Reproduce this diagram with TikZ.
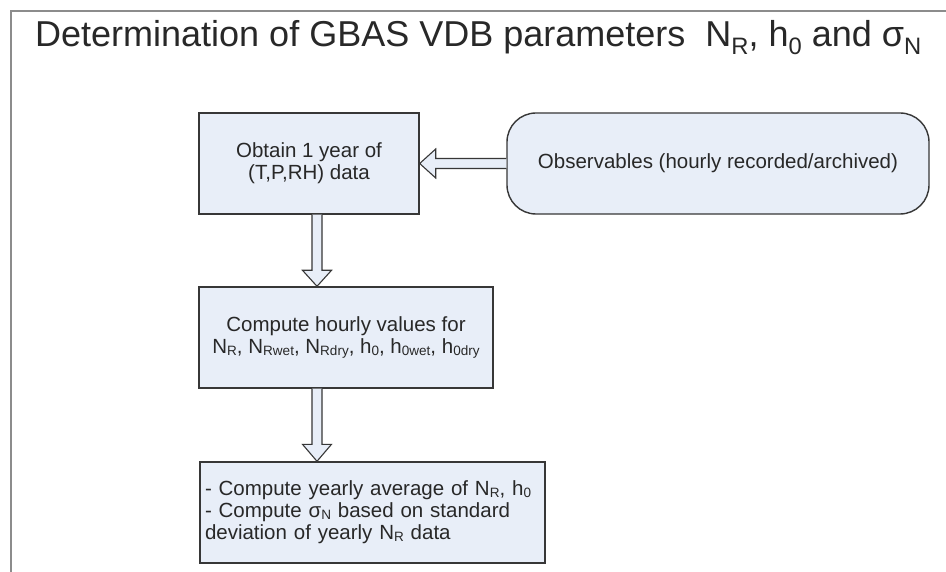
\documentclass[tikz,border=0pt]{standalone}
\usepackage{fontspec}
\setmainfont{Liberation Sans}
\usetikzlibrary{calc}
\definecolor{boxfill}{RGB}{232,238,248}
\definecolor{boxline}{RGB}{55,55,55}
\definecolor{txt}{RGB}{40,40,40}
\definecolor{framecol}{RGB}{140,140,140}
\newcommand{\lowsub}[1]{\raisebox{-0.2ex}{\scalebox{0.66}{#1}}}
\newcommand{\ttsub}[1]{\raisebox{-0.4ex}{\scalebox{0.66}{#1}}}
\tikzset{
  pbox/.style={draw=boxline, line width=1.4pt, fill=boxfill, inner sep=0pt, text=txt,
    font=\fontsize{20.5}{22}\selectfont, align=center, minimum height=101pt},
  blockarrow/.style={draw=boxline, line width=1.1pt, fill=boxfill, line join=miter},
  titletext/.style={text=txt, font=\fontsize{36}{40}\selectfont, inner sep=0pt}
}
\begin{document}
\begin{tikzpicture}[x=1pt,y=-1pt]
\useasboundingbox (0,0) rectangle (946,572);
\fill[white] (0,0) rectangle (946,572);
\draw[framecol, line width=2.5pt] (11,572) -- (11,11) -- (946,11);
\node[titletext, anchor=base west] (title) at (35,47)
  {Determination of GBAS VDB parameters\ \ N\ttsub{R}, h\ttsub{0} and σ\ttsub{N}};
\node[pbox, minimum width=220pt] (b1) at (309,163.5)
  {Obtain 1 year of\\(T,P,RH) data};
\node[pbox, rounded corners=29pt, minimum width=422pt] (obs) at (718,163.5)
  {Observables (hourly recorded/archived)};
\node[pbox, minimum width=294pt] (b2) at (346,337.5)
  {Compute hourly values for\\N\lowsub{R}, N\lowsub{Rwet}, N\lowsub{Rdry}, h\lowsub{0}, h\lowsub{0wet}, h\lowsub{0dry}};
\node[pbox, align=left, text width=335pt, minimum width=345pt] (b3) at (372.5,512.5)
  {- Compute yearly average of N\lowsub{R}, h\lowsub{0}\\- Compute σ\lowsub{N} based on standard\\deviation of yearly N\lowsub{R} data};
% horizontal block arrow
\draw[blockarrow] ($(obs.west)+(0,-5)$) -- ($(b1.east)+(16,-5)$) -- ($(b1.east)+(16,-14.5)$)
  -- (b1.east) -- ($(b1.east)+(16,14.5)$) -- ($(b1.east)+(16,5)$) -- ($(obs.west)+(0,5)$);
% vertical block arrows
\coordinate (a1top) at ($(b1.south)+(8,0)$);
\coordinate (a1tip) at (a1top |- b2.north);
\draw[blockarrow] ($(a1top)+(-5,0)$) -- ($(a1tip)+(-5,-16)$) -- ($(a1tip)+(-14.5,-16)$)
  -- (a1tip) -- ($(a1tip)+(14.5,-16)$) -- ($(a1tip)+(5,-16)$) -- ($(a1top)+(5,0)$);
\coordinate (a2top) at (a1top |- b2.south);
\coordinate (a2tip) at (a1top |- b3.north);
\draw[blockarrow] ($(a2top)+(-5,0)$) -- ($(a2tip)+(-5,-17)$) -- ($(a2tip)+(-14.5,-17)$)
  -- (a2tip) -- ($(a2tip)+(14.5,-17)$) -- ($(a2tip)+(5,-17)$) -- ($(a2top)+(5,0)$);
\end{tikzpicture}
\end{document}
